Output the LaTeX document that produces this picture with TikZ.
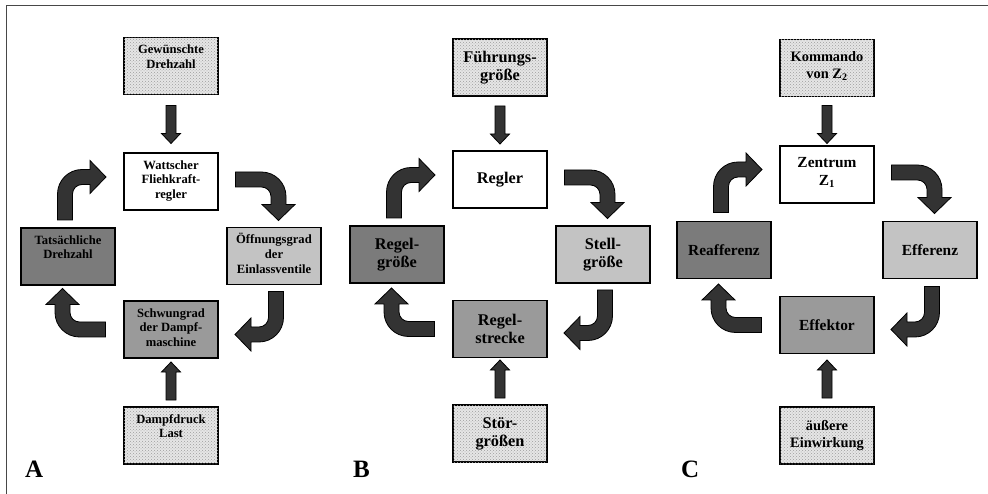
\documentclass[tikz,border=0pt]{standalone}
\usepackage{fontspec}
\setmainfont{Liberation Serif}
\usetikzlibrary{calc,patterns}

\definecolor{arrowgray}{HTML}{333333}
\definecolor{darkbox}{HTML}{7B7B7B}
\definecolor{midbox}{HTML}{9A9A9A}
\definecolor{lightbox}{HTML}{C3C3C3}
\definecolor{stipple}{HTML}{E6E6E6}

% box contents: fixed 94 x 57 box, text at the top or centred
\newcommand{\topbox}[1]{\parbox[c][57pt][t]{94pt}{\centering\vspace*{6pt}\strut #1}}
\newcommand{\midbox}[1]{\parbox[c][57pt][c]{94pt}{\centering #1}}
\newcommand{\fontA}{\bfseries\fontsize{12.6}{14.7}\selectfont}
\newcommand{\fontB}{\bfseries\fontsize{16.3}{18.2}\selectfont}
\newcommand{\fontC}{\bfseries\fontsize{15.4}{17.5}\selectfont}
\newcommand{\fontCs}{\bfseries\fontsize{14.4}{17.5}\selectfont}

\tikzset{
  blk/.style={draw=black, line width=1.2pt, inner sep=0pt, outer sep=0pt},
  stip/.style={blk, fill=stipple, postaction={pattern=crosshatch dots, pattern color=black!38}},
  white box/.style={blk, fill=white},
  dark box/.style={blk, fill=darkbox},
  mid box/.style={blk, fill=midbox},
  light box/.style={blk, fill=lightbox},
  arrowshape/.style={fill=arrowgray, draw=black, line width=0.8pt, line join=miter},
  panel label/.style={anchor=base west, inner sep=0pt, font=\bfseries\fontsize{25}{25}\selectfont},
  % block arrow: starts going up, turns right
  pics/bentarr/.style={code={
    \filldraw[arrowshape] (-7.5,0) -- (-7.5,-26)
      .. controls (-7.5,-39.53) and (3.47,-50.5) .. (17,-50.5)
      -- (25,-50.5) -- (25,-59.5) -- (41,-43) -- (25,-26.5) -- (25,-35.5) -- (17,-35.5)
      .. controls (11.75,-35.5) and (7.5,-31.25) .. (7.5,-26)
      -- (7.5,0) -- cycle;}},
  % straight block arrow pointing down
  pics/straightarr/.style={code={
    \filldraw[arrowshape] (-5,0) -- (-5,28) -- (-9.5,28) -- (0,38) -- (9.5,28) -- (5,28) -- (5,0) -- cycle;}},
}

\begin{document}
\begin{tikzpicture}[x=1pt, y=-1pt]
\useasboundingbox (0,0) rectangle (988,494);
\fill[white] (0,0) rectangle (988,494);

% frame
\draw[line width=1.8pt, black!72] (6.5,494) -- (6.5,5.5) -- (988,5.5);

% ---------- A ----------
\node[stip, font=\fontA] (aT) at (171,66) {\topbox{Gewünschte\\Drehzahl}};
\node[white box, font=\fontA] (aC) at (171,181.5) {\topbox{Wattscher\\Fliehkraft-\\regler}};
\node[dark box, font=\fontA] (aL) at (68,256.5) {\topbox{Tatsächliche\\Drehzahl}};
\node[light box, font=\fontA] (aR) at (274,256) {\topbox{Öffnungsgrad\\der\\Einlassventile}};
\node[mid box, font=\fontA] (aB) at (171,329.5) {\topbox{Schwungrad\\der Dampf-\\maschine}};
\node[stip, font=\fontA] (aD) at (171,435.5) {\topbox{Dampfdruck\\Last}};
\node[panel label] (aLab) at (25,477) {A};

\pic at ($(aT.south)+(0,11)$) {straightarr};
\pic[rotate=180] at ($(aD.north)+(0,-7)$) {straightarr};
\pic at ($(aL.north)+(-3,-8)$) {bentarr};
\pic[rotate=-90] at ($(aC.east)+(17.5,-2)$) {bentarr};
\pic[rotate=180] at ($(aR.south)+(2,7)$) {bentarr};
\pic[rotate=90] at ($(aB.west)+(-18.5,0)$) {bentarr};

% ---------- B ----------
\node[stip, font=\fontB] (bT) at (500,67.5) {\midbox{Führungs-\\größe}};
\node[white box, font=\fontB] (bC) at (500,179.5) {\midbox{Regler}};
\node[dark box, font=\fontB] (bL) at (397,254.5) {\midbox{Regel-\\größe}};
\node[light box, font=\fontB] (bR) at (603,254.5) {\midbox{Stell-\\größe}};
\node[mid box, font=\fontB] (bB) at (500,329) {\midbox{Regel-\\strecke}};
\node[stip, font=\fontB] (bD) at (500,433.5) {\midbox{Stör-\\größen}};
\node[panel label] (bLab) at (353,477) {B};

\pic at ($(bT.south)+(0,10)$) {straightarr};
\pic[rotate=180] at ($(bD.north)+(0,-7)$) {straightarr};
\pic at ($(bL.north)+(-3,-8)$) {bentarr};
\pic[rotate=-90] at ($(bC.east)+(17.5,-2)$) {bentarr};
\pic[rotate=180] at ($(bR.south)+(2,7)$) {bentarr};
\pic[rotate=90] at ($(bB.west)+(-18.5,0)$) {bentarr};

% ---------- C ----------
\node[stip, font=\fontCs] (cT) at (827,68) {\midbox{Kommando\\von Z\textsubscript{2}\\[4pt]}};
\node[white box, font=\fontC] (cC) at (827,174.5) {\midbox{Zentrum\\Z\textsubscript{1}\\[4pt]}};
\node[dark box, font=\fontC] (cL) at (724,250) {\midbox{Reafferenz}};
\node[light box, font=\fontC] (cR) at (930,250) {\midbox{Efferenz}};
\node[mid box, font=\fontC] (cB) at (827,325) {\midbox{Effektor}};
\node[stip, font=\fontCs] (cD) at (827,435.5) {\midbox{äußere\\Einwirkung}};
\node[panel label] (cLab) at (681,477) {C};

\pic at ($(cT.south)+(0,9)$) {straightarr};
\pic[rotate=180] at ($(cD.north)+(0,-9)$) {straightarr};
\pic at ($(cL.north)+(-3,-9)$) {bentarr};
\pic[rotate=-90] at ($(cC.east)+(17.5,-2)$) {bentarr};
\pic[rotate=180] at ($(cR.south)+(2,8)$) {bentarr};
\pic[rotate=90] at ($(cB.west)+(-18.5,0)$) {bentarr};
\end{tikzpicture}
\end{document}
